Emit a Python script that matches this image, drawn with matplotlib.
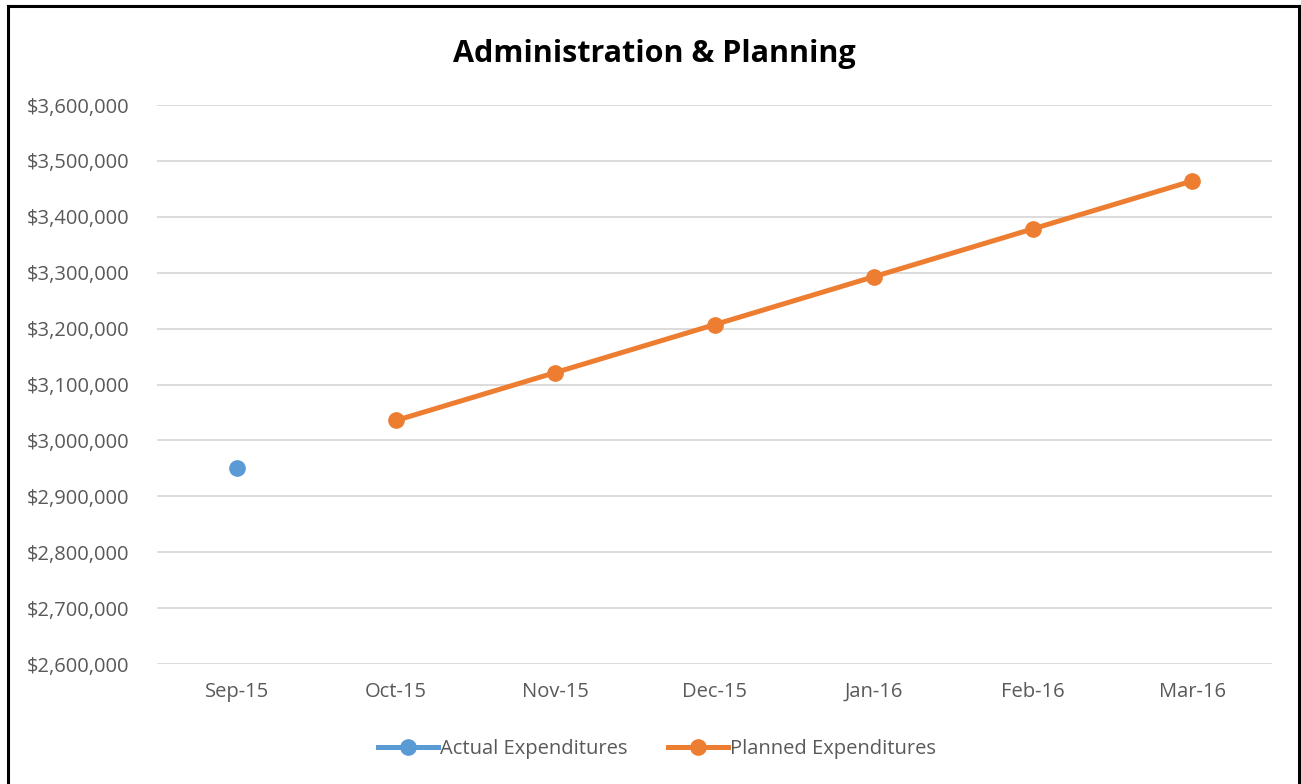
import matplotlib.pyplot as plt
from matplotlib.lines import Line2D
from matplotlib.ticker import FuncFormatter

months = ['Sep-15', 'Oct-15', 'Nov-15', 'Dec-15', 'Jan-16', 'Feb-16', 'Mar-16']
actual = [2950000, None, None, None, None, None, None]
planned = [None, 3035700, 3121400, 3207100, 3292900, 3378600, 3464300]

blue = '#5B9BD5'
orange = '#ED7D31'
grey_text = '#595959'

plt.rcParams['font.family'] = ['Open Sans', 'DejaVu Sans']

fig = plt.figure(figsize=(13.01, 7.84), dpi=100)
ax = fig.add_axes([0.1207, 0.153, 0.857, 0.713])

x = list(range(len(months)))
ax_x = [i for i, v in zip(x, actual) if v is not None]
ax_y = [v for v in actual if v is not None]
px = [i for i, v in zip(x, planned) if v is not None]
py = [v for v in planned if v is not None]

ax.plot(ax_x, ax_y, color=blue, linewidth=3.6, marker='o', markersize=11,
        label='Actual Expenditures', zorder=3)
ax.plot(px, py, color=orange, linewidth=3.6, marker='o', markersize=11,
        label='Planned Expenditures', zorder=3)

ax.set_xlim(-0.5, len(months) - 0.5)
ax.set_ylim(2600000, 3600000)
ax.set_yticks(range(2600000, 3600001, 100000))
ax.yaxis.set_major_formatter(FuncFormatter(lambda v, p: f'${v:,.0f}'))
ax.set_xticks(x)
ax.set_xticklabels(months)

ax.grid(axis='y', color='#D9D9D9', linewidth=1.3)
ax.set_axisbelow(True)
for s in ax.spines.values():
    s.set_visible(False)
ax.tick_params(axis='both', length=0, labelsize=14.5, colors=grey_text)
ax.tick_params(axis='y', pad=20)
ax.tick_params(axis='x', pad=13)

fig.text(0.503, 0.931, 'Administration & Planning', ha='center', va='center',
         fontsize=22, fontweight='bold', color='black')

handles = [Line2D([0], [0], color=blue, linewidth=3.6, marker='o', markersize=11),
           Line2D([0], [0], color=orange, linewidth=3.6, marker='o', markersize=11)]
fig.legend(handles, ['Actual Expenditures', 'Planned Expenditures'], loc='center',
           bbox_to_anchor=(0.505, 0.045), ncol=2, frameon=False, fontsize=14.5,
           labelcolor=grey_text, handlelength=3.0, handletextpad=0.1, columnspacing=2.0)

# frame around the chart area
frame = dict(color='black', linewidth=2.2, transform=fig.transFigure)
fig.add_artist(Line2D([0.0058, 0.0058], [0.0, 0.9925], **frame))
fig.add_artist(Line2D([0.0058, 0.9985], [0.9925, 0.9925], **frame))
fig.add_artist(Line2D([0.9985, 0.9985], [0.0, 0.9925], **frame))

fig.savefig('out.png', dpi=100)
